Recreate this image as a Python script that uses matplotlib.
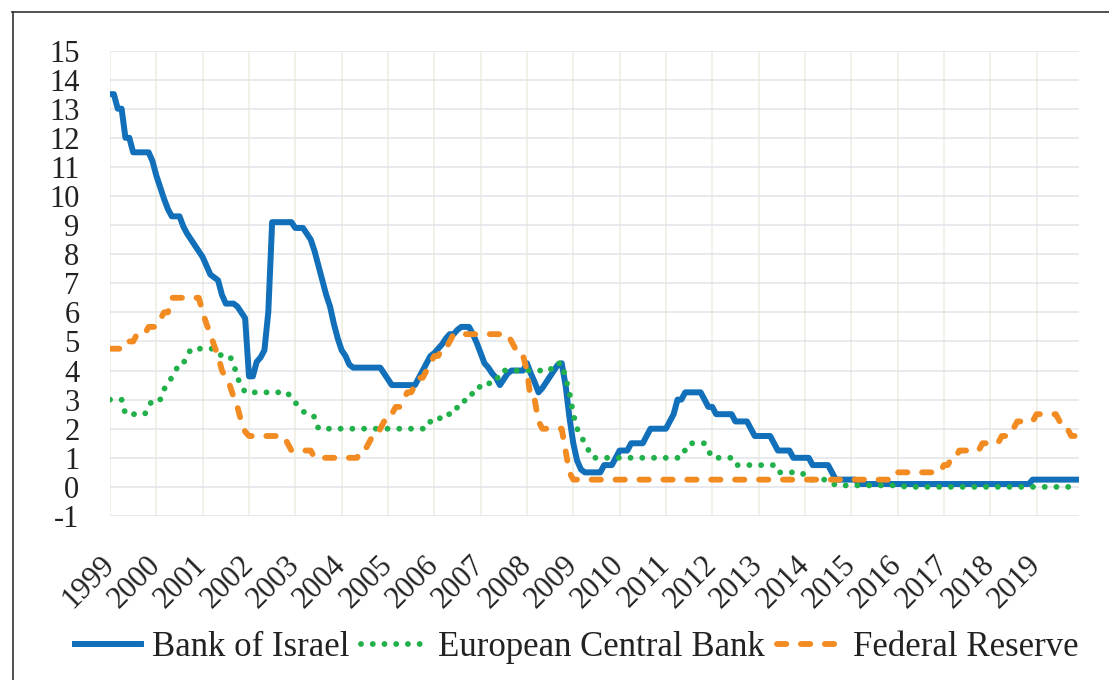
import numpy as np
import matplotlib.pyplot as plt
from matplotlib.lines import Line2D
from matplotlib.transforms import ScaledTranslation

plt.rcParams['font.family'] = ['Liberation Serif', 'DejaVu Serif']
plt.rcParams['axes.unicode_minus'] = False

# monthly policy rates, Jan 1999 - Dec 2019 (one row per year)
years = list(range(1999, 2020))

boi = [
    13.5, 13.5, 13.0, 13.0, 12.0, 12.0, 11.5, 11.5, 11.5, 11.5, 11.5, 11.2,  # 1999
    10.7, 10.3, 9.9, 9.55, 9.3, 9.3, 9.3, 8.95, 8.7, 8.5, 8.3, 8.1,          # 2000
    7.9, 7.6, 7.3, 7.2, 7.1, 6.6, 6.3, 6.3, 6.3, 6.2, 6.0, 5.8,              # 2001
    3.8, 3.8, 4.3, 4.45, 4.7, 6.0, 9.1, 9.1, 9.1, 9.1, 9.1, 9.1,             # 2002
    8.9, 8.9, 8.9, 8.7, 8.5, 8.1, 7.6, 7.1, 6.6, 6.2, 5.6, 5.1,              # 2003
    4.7, 4.5, 4.2, 4.1, 4.1, 4.1, 4.1, 4.1, 4.1, 4.1, 4.1, 3.9,              # 2004
    3.7, 3.5, 3.5, 3.5, 3.5, 3.5, 3.5, 3.5, 3.75, 4.0, 4.25, 4.5,            # 2005
    4.6, 4.75, 4.9, 5.1, 5.25, 5.25, 5.4, 5.5, 5.5, 5.5, 5.25, 4.95,         # 2006
    4.6, 4.25, 4.1, 3.9, 3.75, 3.5, 3.7, 3.9, 4.0, 4.0, 4.0, 4.0,            # 2007
    4.25, 3.9, 3.6, 3.25, 3.4, 3.6, 3.8, 4.0, 4.2, 4.25, 3.5, 2.4,           # 2008
    1.5, 0.9, 0.6, 0.5, 0.5, 0.5, 0.5, 0.5, 0.75, 0.75, 0.75, 1.0,           # 2009
    1.25, 1.25, 1.25, 1.5, 1.5, 1.5, 1.5, 1.75, 2.0, 2.0, 2.0, 2.0,          # 2010
    2.0, 2.25, 2.5, 3.0, 3.0, 3.25, 3.25, 3.25, 3.25, 3.25, 3.0, 2.75,       # 2011
    2.75, 2.5, 2.5, 2.5, 2.5, 2.5, 2.25, 2.25, 2.25, 2.25, 2.0, 1.75,        # 2012
    1.75, 1.75, 1.75, 1.75, 1.5, 1.25, 1.25, 1.25, 1.25, 1.0, 1.0, 1.0,      # 2013
    1.0, 1.0, 0.75, 0.75, 0.75, 0.75, 0.75, 0.5, 0.25, 0.25, 0.25, 0.25,     # 2014
    0.25, 0.25, 0.1, 0.1, 0.1, 0.1, 0.1, 0.1, 0.1, 0.1, 0.1, 0.1,            # 2015
    0.1, 0.1, 0.1, 0.1, 0.1, 0.1, 0.1, 0.1, 0.1, 0.1, 0.1, 0.1,              # 2016
    0.1, 0.1, 0.1, 0.1, 0.1, 0.1, 0.1, 0.1, 0.1, 0.1, 0.1, 0.1,              # 2017
    0.1, 0.1, 0.1, 0.1, 0.1, 0.1, 0.1, 0.1, 0.1, 0.1, 0.1, 0.25,             # 2018
    0.25, 0.25, 0.25, 0.25, 0.25, 0.25, 0.25, 0.25, 0.25, 0.25, 0.25, 0.25,  # 2019
]

ecb = [
    3.0, 3.0, 3.0, 3.0, 2.5, 2.5, 2.5, 2.5, 2.5, 2.5, 2.75, 3.0,             # 1999
    3.0, 3.0, 3.35, 3.6, 3.75, 4.0, 4.25, 4.25, 4.5, 4.75, 4.75, 4.75,       # 2000
    4.75, 4.75, 4.75, 4.75, 4.6, 4.5, 4.5, 4.5, 4.25, 3.75, 3.5, 3.25,       # 2001
    3.25, 3.25, 3.25, 3.25, 3.25, 3.25, 3.25, 3.25, 3.25, 3.25, 3.25, 3.0,   # 2002
    2.9, 2.75, 2.6, 2.5, 2.5, 2.4, 2.0, 2.0, 2.0, 2.0, 2.0, 2.0,             # 2003
    2.0, 2.0, 2.0, 2.0, 2.0, 2.0, 2.0, 2.0, 2.0, 2.0, 2.0, 2.0,              # 2004
    2.0, 2.0, 2.0, 2.0, 2.0, 2.0, 2.0, 2.0, 2.0, 2.0, 2.0, 2.25,             # 2005
    2.25, 2.25, 2.5, 2.5, 2.5, 2.5, 2.75, 2.75, 3.0, 3.0, 3.25, 3.25,        # 2006
    3.5, 3.5, 3.5, 3.75, 3.75, 3.75, 4.0, 4.0, 4.0, 4.0, 4.0, 4.0,           # 2007
    4.0, 4.0, 4.0, 4.0, 4.0, 4.0, 4.0, 4.25, 4.25, 4.25, 3.75, 3.25,         # 2008
    2.5, 2.0, 1.75, 1.5, 1.25, 1.0, 1.0, 1.0, 1.0, 1.0, 1.0, 1.0,            # 2009
    1.0, 1.0, 1.0, 1.0, 1.0, 1.0, 1.0, 1.0, 1.0, 1.0, 1.0, 1.0,              # 2010
    1.0, 1.0, 1.0, 1.0, 1.25, 1.25, 1.5, 1.5, 1.5, 1.5, 1.5, 1.25,           # 2011
    1.0, 1.0, 1.0, 1.0, 1.0, 1.0, 0.75, 0.75, 0.75, 0.75, 0.75, 0.75,        # 2012
    0.75, 0.75, 0.75, 0.75, 0.75, 0.5, 0.5, 0.5, 0.5, 0.5, 0.5, 0.5,         # 2013
    0.4, 0.25, 0.25, 0.25, 0.25, 0.25, 0.15, 0.15, 0.05, 0.05, 0.05, 0.05,   # 2014
    0.05, 0.05, 0.05, 0.05, 0.05, 0.05, 0.05, 0.05, 0.05, 0.05, 0.05, 0.05,  # 2015
    0.05, 0.05, 0.0, 0.0, 0.0, 0.0, 0.0, 0.0, 0.0, 0.0, 0.0, 0.0,            # 2016
    0.0, 0.0, 0.0, 0.0, 0.0, 0.0, 0.0, 0.0, 0.0, 0.0, 0.0, 0.0,              # 2017
    0.0, 0.0, 0.0, 0.0, 0.0, 0.0, 0.0, 0.0, 0.0, 0.0, 0.0, 0.0,              # 2018
    0.0, 0.0, 0.0, 0.0, 0.0, 0.0, 0.0, 0.0, 0.0, 0.0, 0.0, 0.0,              # 2019
]

fed = [
    4.75, 4.75, 4.75, 4.75, 4.75, 5.0, 5.0, 5.25, 5.25, 5.25, 5.5, 5.5,      # 1999
    5.5, 5.75, 6.0, 6.0, 6.5, 6.5, 6.5, 6.5, 6.5, 6.5, 6.5, 6.5,             # 2000
    6.0, 5.6, 5.25, 4.85, 4.5, 4.0, 3.75, 3.5, 3.1, 2.75, 2.25, 1.9,         # 2001
    1.75, 1.75, 1.75, 1.75, 1.75, 1.75, 1.75, 1.75, 1.75, 1.75, 1.5, 1.25,   # 2002
    1.25, 1.25, 1.25, 1.25, 1.25, 1.0, 1.0, 1.0, 1.0, 1.0, 1.0, 1.0,         # 2003
    1.0, 1.0, 1.0, 1.0, 1.0, 1.25, 1.25, 1.5, 1.75, 1.75, 2.0, 2.25,         # 2004
    2.5, 2.5, 2.75, 2.75, 3.0, 3.25, 3.25, 3.5, 3.75, 3.75, 4.0, 4.25,       # 2005
    4.5, 4.5, 4.75, 4.75, 5.0, 5.25, 5.25, 5.25, 5.25, 5.25, 5.25, 5.25,     # 2006
    5.25, 5.25, 5.25, 5.25, 5.25, 5.25, 5.25, 5.25, 5.0, 4.75, 4.5, 4.5,     # 2007
    4.0, 3.0, 3.0, 2.25, 2.0, 2.0, 2.0, 2.0, 2.0, 2.0, 1.25, 0.5,            # 2008
    0.25, 0.25, 0.25, 0.25, 0.25, 0.25, 0.25, 0.25, 0.25, 0.25, 0.25, 0.25,  # 2009
    0.25, 0.25, 0.25, 0.25, 0.25, 0.25, 0.25, 0.25, 0.25, 0.25, 0.25, 0.25,  # 2010
    0.25, 0.25, 0.25, 0.25, 0.25, 0.25, 0.25, 0.25, 0.25, 0.25, 0.25, 0.25,  # 2011
    0.25, 0.25, 0.25, 0.25, 0.25, 0.25, 0.25, 0.25, 0.25, 0.25, 0.25, 0.25,  # 2012
    0.25, 0.25, 0.25, 0.25, 0.25, 0.25, 0.25, 0.25, 0.25, 0.25, 0.25, 0.25,  # 2013
    0.25, 0.25, 0.25, 0.25, 0.25, 0.25, 0.25, 0.25, 0.25, 0.25, 0.25, 0.25,  # 2014
    0.25, 0.25, 0.25, 0.25, 0.25, 0.25, 0.25, 0.25, 0.25, 0.25, 0.25, 0.5,   # 2015
    0.5, 0.5, 0.5, 0.5, 0.5, 0.5, 0.5, 0.5, 0.5, 0.5, 0.5, 0.5,              # 2016
    0.75, 0.75, 1.0, 1.0, 1.25, 1.25, 1.25, 1.25, 1.25, 1.25, 1.5, 1.5,      # 2017
    1.5, 1.5, 1.5, 1.75, 1.75, 1.75, 2.0, 2.25, 2.25, 2.25, 2.25, 2.25,      # 2018
    2.5, 2.5, 2.5, 2.5, 2.5, 2.5, 2.25, 2.25, 2.0, 1.75, 1.75, 1.75,         # 2019
]

months = 1999 + np.arange(len(boi)) / 12

W, H = 1109, 680
fig = plt.figure(figsize=(W / 100, H / 100), dpi=100)
ax = fig.add_axes([110 / W, 1 - 516 / H, (1079 - 110) / W, (516 - 50.5) / H])

ax.plot(months, boi, color='#1170b9', lw=4.3, label='Bank of Israel',
        solid_joinstyle='round', zorder=3)
ax.plot(months, ecb, color='#22b04b', lw=4.2, linestyle=(0, (0.01, 2.0)),
        dash_capstyle='round', label='European Central Bank', zorder=4)
ax.plot(months, fed, color='#f28c22', lw=4.2, linestyle=(0, (1.6, 2.5)),
        dash_capstyle='round', label='Federal Reserve', zorder=5)

ax.set_xlim(1999, months[-1])
ax.set_ylim(-1, 15)
ax.set_yticks(range(-1, 16))
ax.set_xticks(years)
ax.set_xticklabels([str(y) for y in years], rotation=45, ha='right', va='center',
                   rotation_mode='anchor', fontsize=22, color='#222222')
shift = ScaledTranslation(-4 / 72, 0, fig.dpi_scale_trans)
for lab in ax.get_xticklabels():
    lab.set_transform(lab.get_transform() + shift)

ax.yaxis.grid(True, color='#e1e4e8', lw=1.1)
ax.xaxis.grid(True, color='#eeeee2', lw=1.1)
ax.set_axisbelow(True)
for s in ax.spines.values():
    s.set_visible(False)
ax.tick_params(length=0)
ax.tick_params(axis='y', pad=22, labelsize=22, labelcolor='#222222')
ax.tick_params(axis='x', pad=32)

# outer frame (only left and top edges are inside the image)
fig.add_artist(Line2D([12.5 / W, 12.5 / W], [0, 1 - 11.5 / H],
                      transform=fig.transFigure, color='#333333', lw=1.2))
fig.add_artist(Line2D([12 / W, 1], [1 - 11.5 / H, 1 - 11.5 / H],
                      transform=fig.transFigure, color='#333333', lw=1.2))

fig.legend(loc='center', bbox_to_anchor=(577 / W, 1 - 648 / H), ncol=3,
           frameon=False, fontsize=25, handlelength=1.9, handletextpad=0.3,
           columnspacing=0.35, labelcolor='#222222')

fig.savefig('out.png', dpi=100)
